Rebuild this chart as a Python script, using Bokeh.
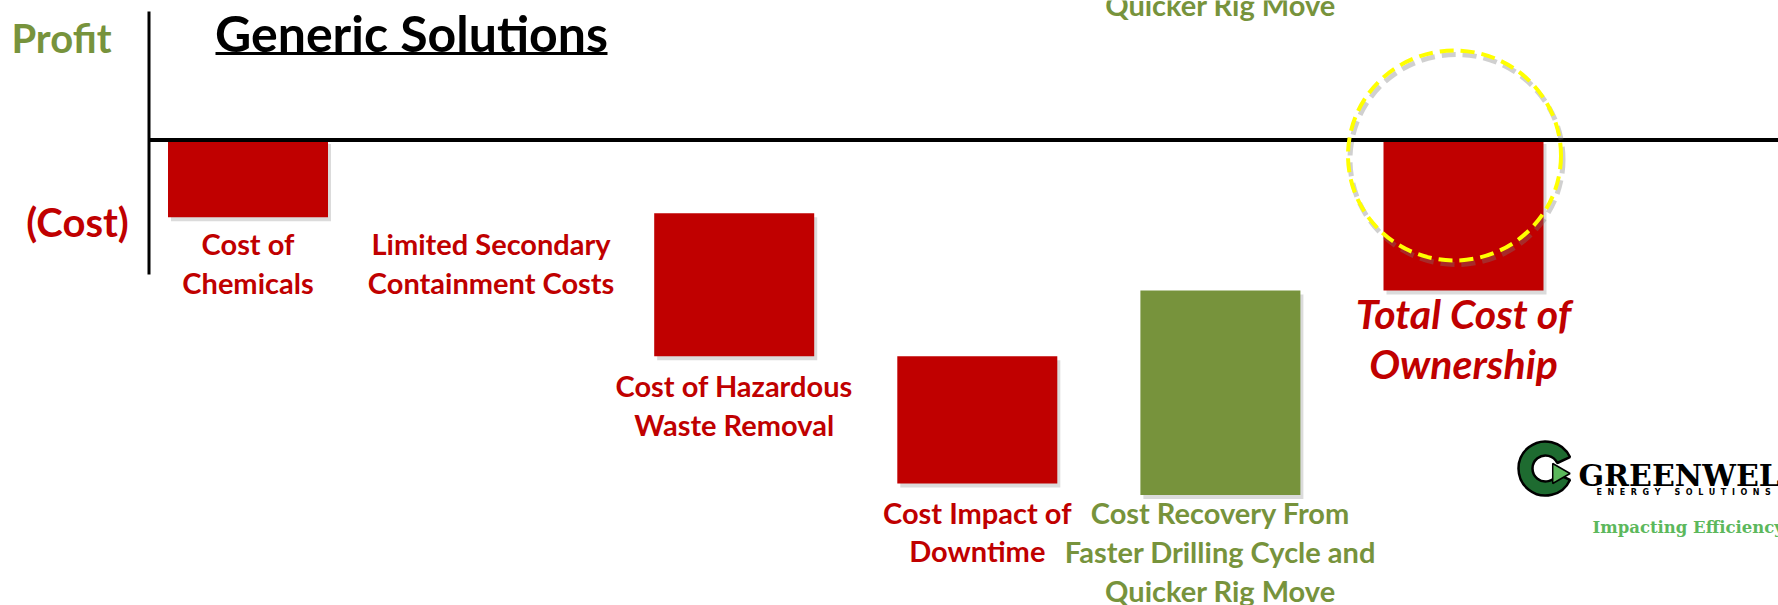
import math
from bokeh.plotting import figure
from bokeh.models import Range1d, ColumnDataSource
from bokeh.core.properties import value
from bokeh.embed import file_html
from bokeh.resources import INLINE

# ---------------- data ----------------
categories = [
    "Cost of\nChemicals",
    "Limited Secondary\nContainment Costs",
    "Cost of Hazardous\nWaste Removal",
    "Cost Impact of\nDowntime",
    "Cost Recovery From\nFaster Drilling Cycle and\nQuicker Rig Move",
    "Total Cost of\nOwnership",
]
bar_start = [0.0, -2.0, -1.9, -5.6, -9.2, 0.0]
bar_end = [-2.0, -2.0, -5.6, -8.9, -3.9, -3.9]
bar_kind = ["cost", "cost", "cost", "cost", "recovery", "total"]

title_text = "Generic Solutions"
profit_text = "Profit"
cost_text = "(Cost)"

# ---------------- styling / geometry ----------------
W, H = 1778, 605
MARGIN = 0
CAT_PX = 243.1          # px per category
CAT0_PAGE_X = 247.5     # page x of first category centre
UNIT_PX = 38.6          # px per value unit
ZERO_PAGE_Y = 139.5     # page y of the zero line

RED = "#C00000"
GREEN = "#77933C"
FONT = "Lato"
NB = "\u00a0"

def px2x(X):
    return (X - CAT0_PAGE_X) / CAT_PX

def px2y(Y):
    return -(Y - ZERO_PAGE_Y) / UNIT_PX

p = figure(
    width=W, height=H,
    x_range=Range1d(px2x(MARGIN), px2x(MARGIN + W)),
    y_range=Range1d(px2y(MARGIN + H), px2y(MARGIN)),
    x_axis_type=None, y_axis_type=None,
    toolbar_location=None, output_backend="svg",
    min_border=0, min_border_left=0, min_border_right=0,
    min_border_top=0, min_border_bottom=0,
    outline_line_color=None,
)
p.grid.visible = False
p.background_fill_color = "white"
p.border_fill_color = "white"

# ---------------- bars ----------------
BAR_W = 160.0 / CAT_PX
colors = {"cost": RED, "recovery": GREEN, "total": RED}
xs = list(range(len(categories)))
tops = [max(a, b) for a, b in zip(bar_start, bar_end)]
bots = [min(a, b) for a, b in zip(bar_start, bar_end)]
draw = [t != b for t, b in zip(tops, bots)]
src = ColumnDataSource(dict(
    left=[x - BAR_W / 2 for x, d in zip(xs, draw) if d],
    right=[x + BAR_W / 2 for x, d in zip(xs, draw) if d],
    top=[t for t, d in zip(tops, draw) if d],
    bottom=[b for b, d in zip(bots, draw) if d],
    color=[colors[k] for k, d in zip(bar_kind, draw) if d],
))
# soft shadow
sh_dx = 3.0 / CAT_PX
sh_dy = 4.0 / UNIT_PX
p.quad(left=[l + sh_dx for l in src.data["left"]], right=[r + sh_dx for r in src.data["right"]],
       top=[t - sh_dy for t in src.data["top"]], bottom=[b - sh_dy for b in src.data["bottom"]],
       fill_color="#999999", fill_alpha=0.35, line_color=None)
p.quad(left="left", right="right", top="top", bottom="bottom",
       fill_color="color", line_color=None, source=src)

# ---------------- axes lines ----------------
p.segment(x0=[px2x(148)], y0=[0], x1=[px2x(1790)], y1=[0], line_color="black", line_width=4)
p.segment(x0=[px2x(148.5)], y0=[px2y(11)], x1=[px2x(148.5)], y1=[px2y(274)],
          line_color="black", line_width=3)

# ---------------- category labels ----------------
label_gap_px = [9, 9, 12, 11, 0, -2]
for i, (cat, kind) in enumerate(zip(categories, bar_kind)):
    base = bots[i]
    if i == 1:
        base = bots[0]
    y = base - label_gap_px[i] / UNIT_PX
    if kind == "total":
        p.text(x=[i], y=[y], text=[cat], text_font=value(FONT), text_font_size="41px",
               text_font_style="bold italic", text_color=RED, text_align="center",
               text_baseline="top", text_line_height=1.02)
    else:
        p.text(x=[i], y=[y], text=[cat], text_font=value(FONT), text_font_size="29px",
               text_font_style="bold", text_color=GREEN if kind == "recovery" else RED,
               text_align="center", text_baseline="top", text_line_height=1.11)

# clipped repeat of last line at very top (as in the slide)
p.text(x=[px2x(1220)], y=[px2y(4)], text=["Quicker Rig Move"], text_font=value(FONT),
       text_font_size="29px", text_font_style="bold", text_color=GREEN,
       text_align="center", text_baseline="alphabetic")

# ---------------- title & side labels ----------------
p.text(x=[px2x(411)], y=[px2y(32)], text=[title_text], text_font=value(FONT),
       text_font_size="50px", text_font_style="bold", text_color="black",
       text_align="center", text_baseline="middle")
p.segment(x0=[px2x(215)], y0=[px2y(53)], x1=[px2x(607)], y1=[px2y(53)],
          line_color="black", line_width=3)
p.text(x=[px2x(61)], y=[px2y(37)], text=[profit_text], text_font=value(FONT),
       text_font_size="40px", text_font_style="bold", text_color=GREEN,
       text_align="center", text_baseline="middle")
p.text(x=[px2x(77)], y=[px2y(221)], text=[cost_text], text_font=value(FONT),
       text_font_size="40px", text_font_style="bold", text_color=RED,
       text_align="center", text_baseline="middle")

# ---------------- highlight ellipse ----------------
ex, ey = px2x(1454), px2y(155)
ew, eh = 213.0 / CAT_PX, 210.0 / UNIT_PX
p.ellipse(x=[ex + 2 / CAT_PX], y=[ey - 4 / UNIT_PX], width=ew, height=eh, fill_color=None,
          line_color="#777777", line_alpha=0.35, line_width=5, line_dash="14 7")
p.ellipse(x=[ex], y=[ey], width=ew, height=eh, fill_color=None,
          line_color="#FFFF00", line_width=4, line_dash="14 7")

# ---------------- logo ----------------
gx, gy = px2x(1545), px2y(468)
p.annular_wedge(x=[gx], y=[gy], inner_radius=13, outer_radius=27,
                inner_radius_units="screen", outer_radius_units="screen",
                start_angle=math.radians(25), end_angle=math.radians(335),
                fill_color="#1E6B30", line_color="black", line_width=2.5)
p.scatter(x=[px2x(1558)], y=[px2y(473)], marker="triangle", size=20, angle=-math.pi / 2,
          fill_color="#5CB85C", line_color="black", line_width=1.5)
p.text(x=[px2x(1578)], y=[px2y(475)], text=["GREENWELL"], text_font=value("DejaVu Serif"),
       text_font_size="30px", text_font_style="bold", text_color="black",
       text_align="left", text_baseline="alphabetic")
p.text(x=[px2x(1596)], y=[px2y(492)],
       text=[(NB * 2).join("ENERGY") + NB * 5 + (NB * 2).join("SOLUTIONS")],
       text_font=value("DejaVu Sans"), text_font_size="8px", text_font_style="bold",
       text_color="black", text_align="left", text_baseline="middle")
p.text(x=[px2x(1592)], y=[px2y(527)], text=["Impacting Efficiency"],
       text_font=value("DejaVu Serif"), text_font_size="16.5px", text_font_style="bold",
       text_color="#5CB85C", text_align="left", text_baseline="middle")

open("out.html", "w").write(file_html(p, INLINE))
